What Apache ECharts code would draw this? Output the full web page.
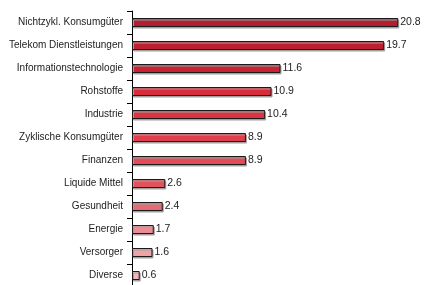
<!DOCTYPE html>
<html lang="de">
<head>
    <meta charset="UTF-8">
    <title>Sektoren</title>
    <script src="https://cdn.jsdelivr.net/npm/echarts@6/dist/echarts.min.js"></script>
    <style>
        html, body { margin: 0; padding: 0; background: #fff; }
        #chart1 { width: 424px; height: 285px; }
    </style>
</head>
<body>
<div id="chart1"></div>
<script type="text/javascript">
    // Daten
    var sektoren = ['Nichtzykl. Konsumgüter', 'Telekom Dienstleistungen', 'Informationstechnologie',
        'Rohstoffe', 'Industrie', 'Zyklische Konsumgüter', 'Finanzen', 'Liquide Mittel',
        'Gesundheit', 'Energie', 'Versorger', 'Diverse'];
    var anteile = [20.8, 19.7, 11.6, 10.9, 10.4, 8.9, 8.9, 2.6, 2.4, 1.7, 1.6, 0.6];
    var farben = ['#b21e2e', '#bd2030', '#c92333', '#d82b3b', '#dc3443', '#df3e4c', '#e24b57',
        '#e0525e', '#e46a74', '#eb8d95', '#f0a2a9', '#f4b6bc'];

    var myChart1 = echarts.init(document.getElementById('chart1'));
    myChart1.setOption({
        animation: false,
        grid: { left: 132, right: 10.4, top: 11, height: 276, outerBoundsMode: 'none', containLabel: false },
        xAxis: { type: 'value', min: 0, max: 22, show: false },
        yAxis: {
            type: 'category',
            inverse: true,
            data: sektoren,
            axisLine: { lineStyle: { color: '#000', width: 1 } },
            axisTick: { show: true, length: 5, lineStyle: { color: '#000' } },
            axisLabel: { color: '#222', fontSize: 10, fontFamily: 'Liberation Sans, Arial', margin: 9 }
        },
        series: [{
            type: 'bar',
            barWidth: 9,
            data: anteile.map(function (v, i) {
                return { value: v, itemStyle: { color: farben[i] } };
            }),
            itemStyle: {
                borderColor: '#1a1a1a',
                borderWidth: 1,
                shadowColor: '#a0a0a0',
                shadowBlur: 0,
                shadowOffsetX: 1,
                shadowOffsetY: 1.5
            },
            label: {
                show: true,
                position: 'right',
                distance: 2,
                color: '#222',
                fontSize: 10.5,
                fontFamily: 'Liberation Sans, Arial'
            }
        }]
    });
</script>
</body>
</html>
